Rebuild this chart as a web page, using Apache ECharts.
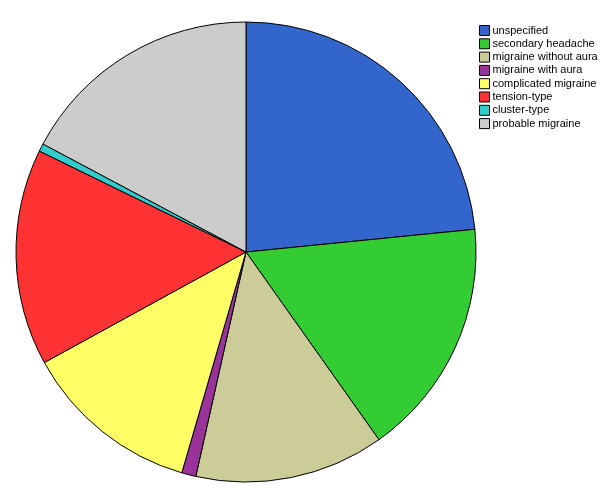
<!DOCTYPE html>
<html>
<head>
<meta charset="utf-8">
<script src="https://cdn.jsdelivr.net/npm/echarts@6/dist/echarts.min.js"></script>
<style>html,body{margin:0;padding:0;background:#fff;}#c{width:615px;height:499px;}</style>
</head>
<body>
<div id="c"></div>
<script>
var categories = ["unspecified","secondary headache","migraine without aura","migraine with aura","complicated migraine","tension-type","cluster-type","probable migraine"];
var values = [23.4, 16.75, 13.3, 1.0, 12.5, 15.2, 0.55, 17.2];
var colors = ["#3366CC","#33CC33","#CCCC99","#993399","#FFFF66","#FF3333","#33CCCC","#CCCCCC"];

var chart = echarts.init(document.getElementById('c'), null, {renderer:'canvas'});
chart.setOption({
  animation: false,
  color: colors,
  legend: {
    orient: 'vertical',
    left: 474,
    top: 20,
    itemWidth: 10,
    itemHeight: 10,
    itemGap: 2.3,
    icon: 'rect',
    textStyle: {fontFamily: 'Liberation Sans, Arial, sans-serif', fontSize: 11, color: '#000', padding: [0,0,0,-2]},
    itemStyle: {borderColor: '#000', borderWidth: 1},
    data: categories
  },
  series: [{
    type: 'pie',
    center: [246, 252],
    radius: 230,
    startAngle: 90,
    clockwise: true,
    label: {show: false},
    labelLine: {show: false},
    emphasis: {disabled: true},
    itemStyle: {borderColor: '#000', borderWidth: 1},
    data: categories.map(function(n,i){return {name:n, value:values[i]};})
  }]
});
</script>
</body>
</html>
